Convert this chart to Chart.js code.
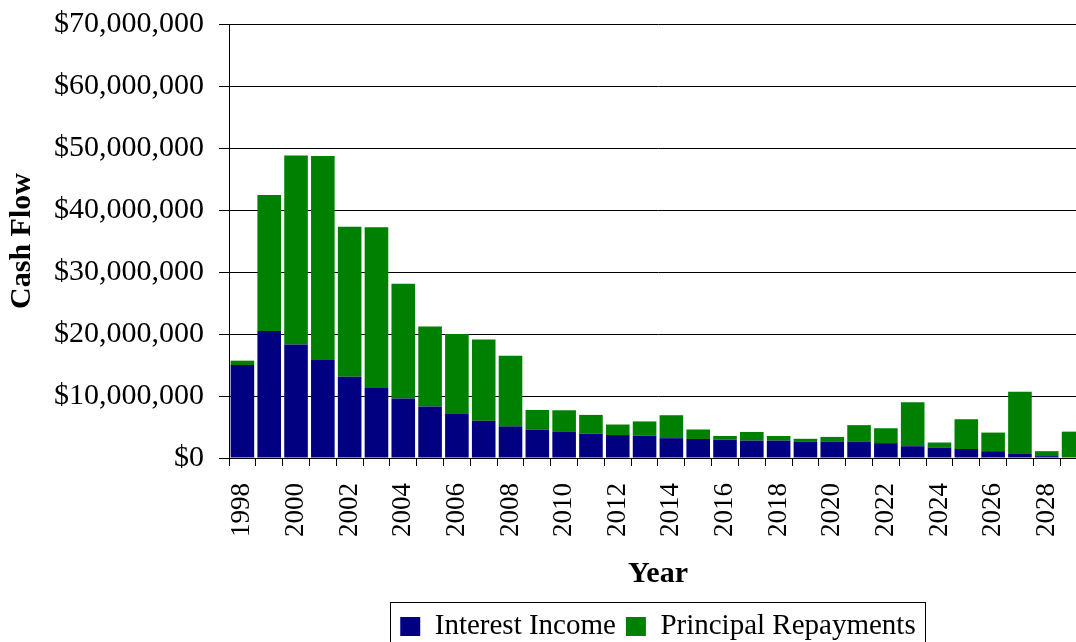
<!DOCTYPE html>
<html>
<head>
<meta charset="utf-8">
<script src="https://cdn.jsdelivr.net/npm/chart.js@4/dist/chart.umd.min.js"></script>
<style>
  html, body { margin: 0; padding: 0; background: #fff; overflow: hidden; }
  #wrap { width: 1123px; height: 660px; position: relative; }
</style>
</head>
<body>
<div id="wrap"><canvas id="cashChart"></canvas></div>
<script>
// years on the x axis
const years = ['1998', '1999', '2000', '2001', '2002', '2003', '2004', '2005',
    '2006', '2007', '2008', '2009', '2010', '2011', '2012', '2013',
    '2014', '2015', '2016', '2017', '2018', '2019', '2020', '2021',
    '2022', '2023', '2024', '2025', '2026', '2027', '2028', '2029'];

// values in millions of dollars
const interestIncome = [15.0, 20.5, 18.3, 15.8, 13.1, 11.3, 9.6, 8.3,
    7.1, 6.0, 5.1, 4.6, 4.2, 3.9, 3.7, 3.6,
    3.2, 3.07, 2.96, 2.8, 2.8, 2.6, 2.6, 2.6,
    2.4, 1.9, 1.7, 1.45, 1.1, 0.65, 0.3, 0.1];

const principalRepayments = [0.7, 21.9, 30.5, 32.9, 24.2, 25.9, 18.5, 12.9,
    12.9, 13.1, 11.4, 3.15, 3.5, 3.05, 1.7, 2.3,
    3.7, 1.53, 0.59, 1.4, 0.75, 0.5, 0.8, 2.7,
    2.4, 7.1, 0.8, 4.8, 3.0, 10.05, 0.8, 4.15];

const yTicks = [0, 10000000, 20000000, 30000000, 40000000, 50000000, 60000000, 70000000];

const serif = "'Liberation Serif', 'Times New Roman', serif";

// draws the thin frame round the legend
const legendFrame = {
    id: 'legendFrame',
    afterDraw(chart) {
        const boxes = chart.legend && chart.legend.legendHitBoxes;
        if (!boxes || !boxes.length) return;
        let minX = Infinity, maxX = -Infinity, minY = Infinity, maxY = -Infinity;
        boxes.forEach(b => {
            minX = Math.min(minX, b.left);
            maxX = Math.max(maxX, b.left + b.width);
            minY = Math.min(minY, b.top);
            maxY = Math.max(maxY, b.top + b.height);
        });
        const cy = (minY + maxY) / 2;
        const ctx = chart.ctx;
        ctx.save();
        ctx.strokeStyle = '#000';
        ctx.lineWidth = 1;
        ctx.strokeRect(Math.round(minX - 10) + 0.5, Math.round(cy - 25) + 0.5,
            Math.round(maxX - minX + 20), 60);
        ctx.restore();
    }
};

const ctx = document.getElementById('cashChart').getContext('2d');
new Chart(ctx, {
    type: 'bar',
    data: {
        labels: years,
        datasets: [{
            label: 'Interest Income',
            data: interestIncome.map(v => v * 1000000),
            backgroundColor: '#000080',
            borderWidth: 0,
            barPercentage: 0.88,
            categoryPercentage: 1.0
        }, {
            label: 'Principal Repayments',
            data: principalRepayments.map(v => v * 1000000),
            backgroundColor: '#008000',
            borderWidth: 0,
            barPercentage: 0.88,
            categoryPercentage: 1.0
        }]
    },
    options: {
        responsive: true,
        maintainAspectRatio: false,
        animation: false,
        layout: { padding: { left: 0, right: 3, top: 0, bottom: 9 } },
        scales: {
            x: {
                stacked: true,
                afterFit: function(scale) {
                    scale.height = 144;
                },
                grid: {
                    drawOnChartArea: false,
                    color: '#000',
                    tickLength: 8
                },
                border: { color: '#000', width: 1 },
                ticks: {
                    autoSkip: false,
                    maxRotation: 90,
                    minRotation: 90,
                    padding: 17,
                    color: '#000',
                    font: { family: serif, size: 27 },
                    callback: function(val, i) {
                        return i % 2 === 0 ? years[i] : '';
                    }
                },
                title: {
                    display: true,
                    text: 'Year',
                    color: '#000',
                    font: { family: serif, size: 30, weight: 'bold' },
                    padding: { top: 0, bottom: 10 }
                }
            },
            y: {
                stacked: true,
                min: 0,
                max: 70000000,
                afterBuildTicks: function(scale) {
                    scale.ticks = yTicks.map(v => ({ value: v }));
                },
                afterFit: function(scale) {
                    scale.width = 229;
                    scale.paddingTop = 24;
                    scale.paddingBottom = 0;
                },
                grid: {
                    color: '#000',
                    tickLength: 10
                },
                border: { color: '#000', width: 1 },
                ticks: {
                    padding: 15,
                    color: '#000',
                    font: { family: serif, size: 30 },
                    callback: function(value) {
                        return '$' + value.toLocaleString('en-US');
                    }
                },
                title: {
                    display: true,
                    text: 'Cash Flow',
                    color: '#000',
                    font: { family: serif, size: 30, weight: 'bold' },
                    padding: { top: 4, bottom: 0 }
                }
            }
        },
        plugins: {
            legend: {
                position: 'bottom',
                fullSize: false,
                labels: {
                    boxWidth: 20,
                    boxHeight: 19,
                    padding: 10,
                    color: '#000',
                    font: { family: serif, size: 29 }
                }
            },
            tooltip: { enabled: false }
        }
    },
    plugins: [legendFrame]
});
</script>
</body>
</html>
